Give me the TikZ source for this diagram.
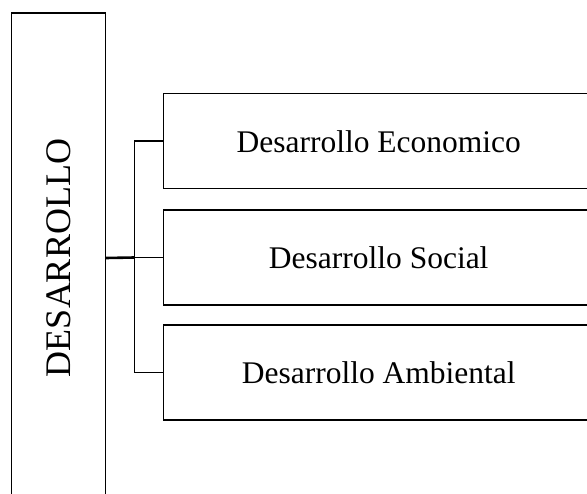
\documentclass[tikz,border=0pt]{standalone}
\usepackage{fontspec}
\setmainfont{Liberation Serif}
\begin{document}
\begin{tikzpicture}[x=1pt,y=-1pt,
  mainbox/.style={draw, line width=1.4pt, rotate=90, minimum width=490pt, minimum height=94pt, inner sep=0pt, font=\fontsize{36}{40}\selectfont},
  subbox/.style={draw, line width=1.4pt, anchor=west, minimum width=430pt, minimum height=95pt, inner sep=0pt, font=\fontsize{31.5}{36}\selectfont},
  conn/.style={line width=1.6pt},
  stem/.style={line width=2.6pt}]
\useasboundingbox (0,0) rectangle (587,494);
\clip (0,0) rectangle (587,494);
\fill[white] (0,0) rectangle (587,494);
\node[mainbox] (main) at (58.5,258) {DESARROLLO};
\node[subbox] (e1) at (163,141.25) {Desarrollo Economico};
\node[subbox] (e2) at (163,257.5) {Desarrollo Social};
\node[subbox] (e3) at (163,372.5) {Desarrollo Ambiental};
\coordinate (jn) at (134.5,257.5);
\draw[conn] (e1.west) -| (jn) |- (e3.west);
\draw[conn] (jn) -- (e2.west);
\draw[stem] (main.south) -- (jn);
\end{tikzpicture}
\end{document}
